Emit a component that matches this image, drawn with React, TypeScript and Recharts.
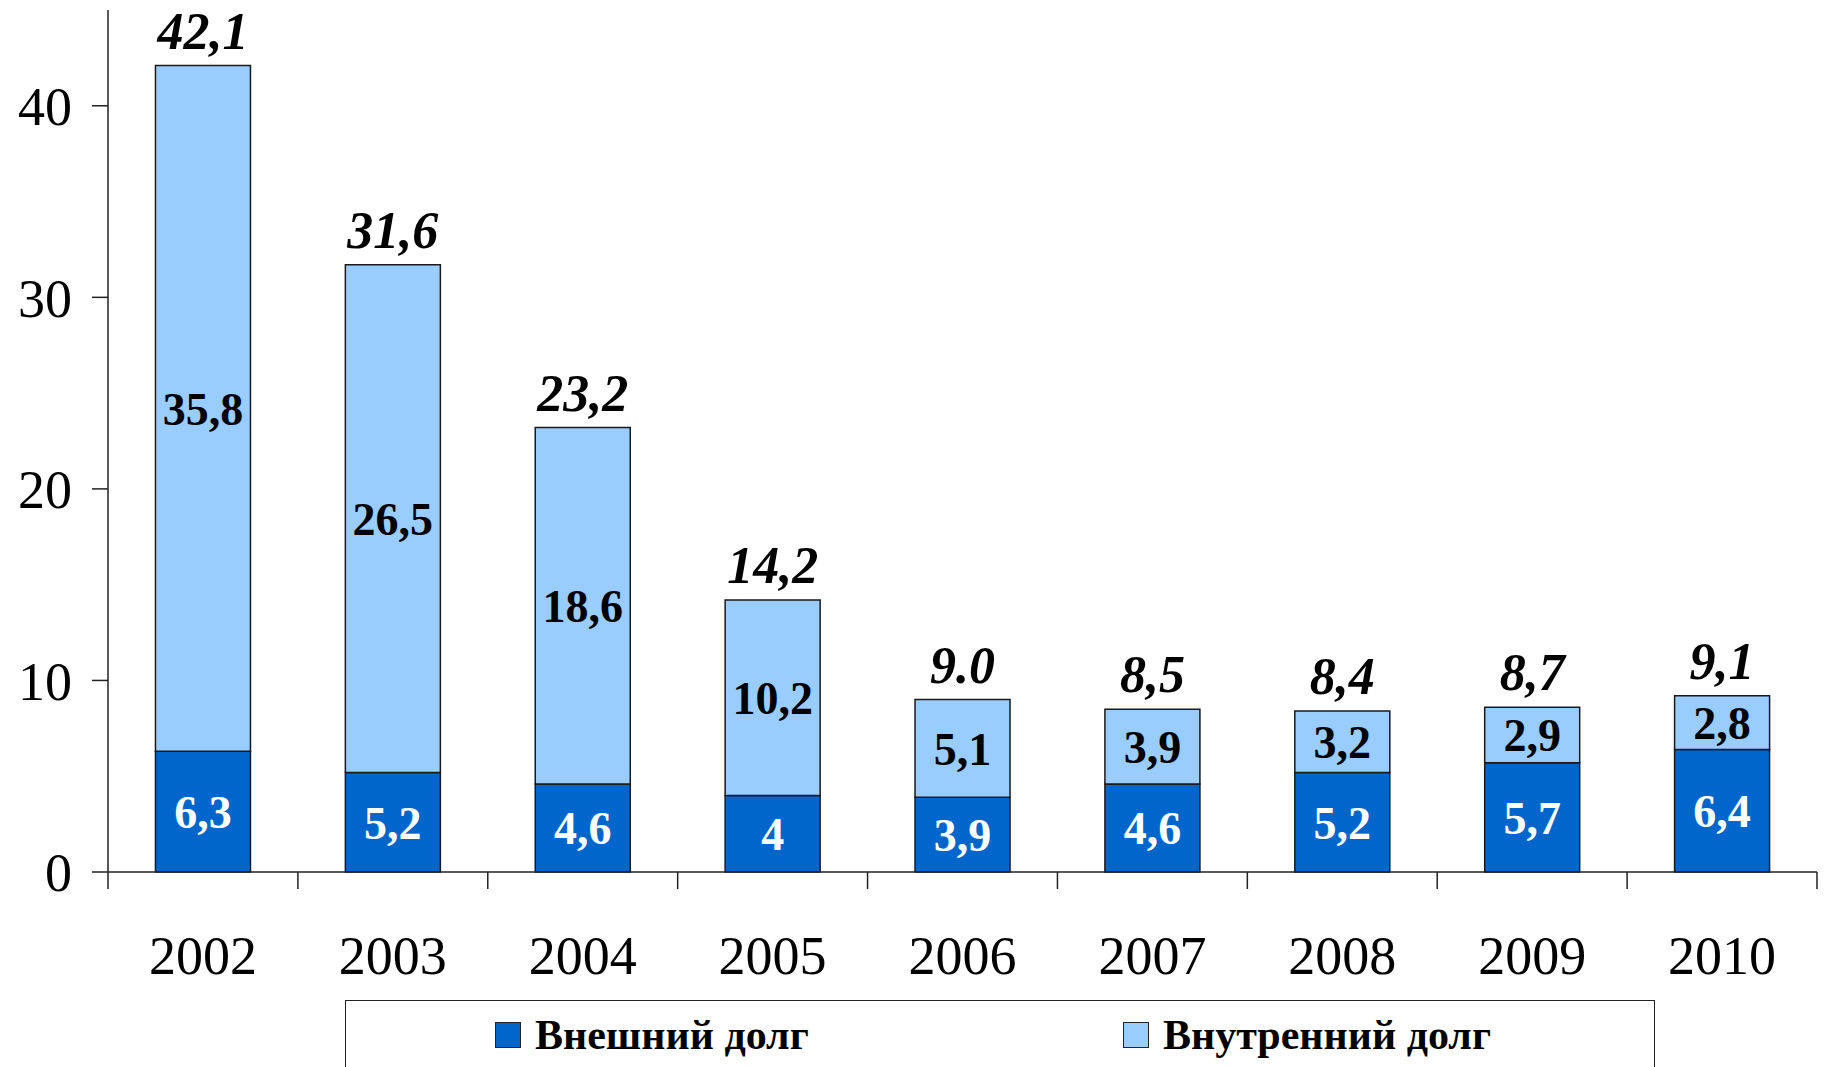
import React from "react";
import {
  BarChart,
  Bar,
  XAxis,
  YAxis,
  Legend,
  LabelList,
} from "recharts";

const years = ["2002", "2003", "2004", "2005", "2006", "2007", "2008", "2009", "2010"];
const externalDebt = [6.3, 5.2, 4.6, 4, 3.9, 4.6, 5.2, 5.7, 6.4];
const internalDebt = [35.8, 26.5, 18.6, 10.2, 5.1, 3.9, 3.2, 2.9, 2.8];
const totalLabels = ["42,1", "31,6", "23,2", "14,2", "9.0", "8,5", "8,4", "8,7", "9,1"];
const yTicks = [0, 10, 20, 30, 40];

const W = 1824;
const H = 1067;
const LEFT = 108;
const RIGHT = 7;
const BAND = (W - LEFT - RIGHT) / years.length;
const FONT = "'Liberation Serif', 'Times New Roman', serif";

const DARK = "#0066CC";
const LIGHT = "#99CCFF";

const chartData = years.map((year, i) => ({
  year,
  external: externalDebt[i],
  internal: internalDebt[i],
}));

const fmt = (v: number) => String(v).replace(".", ",");

function YearTick(props: any) {
  const { x, y, payload, index } = props;
  const left = x - BAND / 2;
  return (
    <g>
      <line x1={left} y1={y} x2={left} y2={y + 17} stroke="#222" strokeWidth={1.5} />
      {index === years.length - 1 && (
        <line x1={x + BAND / 2} y1={y} x2={x + BAND / 2} y2={y + 17} stroke="#222" strokeWidth={1.5} />
      )}
      <text x={x} y={y + 102} textAnchor="middle" fontFamily={FONT} fontSize={54} fill="#000">
        {payload.value}
      </text>
    </g>
  );
}

function TotalLabel(props: any) {
  const { x, y, width, index } = props;
  return (
    <text
      x={x + width / 2}
      y={y - 17}
      textAnchor="middle"
      fontFamily={FONT}
      fontSize={52}
      fontWeight="bold"
      fontStyle="italic"
      fill="#000"
    >
      {totalLabels[index]}
    </text>
  );
}

function LegendBox(props: any) {
  const { payload } = props;
  const lefts = [149, 777];
  return (
    <div
      style={{
        position: "relative",
        width: 1310,
        height: 90,
        border: "1.5px solid #222",
        boxSizing: "border-box",
        background: "#fff",
        fontFamily: FONT,
      }}
    >
      {(payload || []).map((item: any, i: number) => (
        <div
          key={item.value}
          style={{
            position: "absolute",
            left: lefts[i],
            top: 9,
            display: "flex",
            alignItems: "center",
            whiteSpace: "nowrap",
          }}
        >
          <span
            style={{
              display: "inline-block",
              width: 26,
              height: 26,
              background: item.color,
              border: "1px solid #222",
              boxSizing: "border-box",
              marginRight: 14,
            }}
          />
          <span style={{ fontSize: 42, fontWeight: "bold", color: "#000", lineHeight: "50px" }}>
            {item.value}
          </span>
        </div>
      ))}
    </div>
  );
}

export default function App() {
  return (
    <div style={{ position: "absolute", left: 0, top: 0, width: W, height: H, background: "#fff", overflow: "hidden" }}>
      <BarChart
        width={W}
        height={H}
        data={chartData}
        margin={{ top: 10, right: RIGHT, bottom: 75, left: 0 }}
        barCategoryGap="25%"
      >
        <XAxis
          dataKey="year"
          height={120}
          tickLine={false}
          tickSize={0}
          tickMargin={0}
          axisLine={{ stroke: "#222", strokeWidth: 1.5 }}
          tick={<YearTick />}
          interval={0}
        />
        <YAxis
          width={LEFT}
          domain={[0, 45]}
          ticks={yTicks}
          tickSize={16}
          tickMargin={20}
          axisLine={{ stroke: "#222", strokeWidth: 1.5 }}
          tickLine={{ stroke: "#222", strokeWidth: 1.5 }}
          tick={{ fontFamily: FONT, fontSize: 54, fill: "#000" }}
        />
        <Legend
          layout="horizontal"
          verticalAlign="middle"
          align="center"
          wrapperStyle={{ top: 1000, left: 345, width: 1310, height: 90 }}
          content={<LegendBox />}
        />
        <Bar
          dataKey="external"
          name="Внешний долг"
          stackId="debt"
          fill={DARK}
          stroke="#1a1a1a"
          strokeWidth={1.5}
          isAnimationActive={false}
        >
          <LabelList
            dataKey="external"
            position="center"
            formatter={(v: any) => fmt(v)}
            style={{ fontFamily: FONT, fontSize: 46, fontWeight: "bold", fill: "#fff" }}
          />
        </Bar>
        <Bar
          dataKey="internal"
          name="Внутренний долг"
          stackId="debt"
          fill={LIGHT}
          stroke="#1a1a1a"
          strokeWidth={1.5}
          isAnimationActive={false}
        >
          <LabelList
            dataKey="internal"
            position="center"
            formatter={(v: any) => fmt(v)}
            style={{ fontFamily: FONT, fontSize: 46, fontWeight: "bold", fill: "#000" }}
          />
          <LabelList dataKey="internal" content={<TotalLabel />} />
        </Bar>
      </BarChart>
    </div>
  );
}
